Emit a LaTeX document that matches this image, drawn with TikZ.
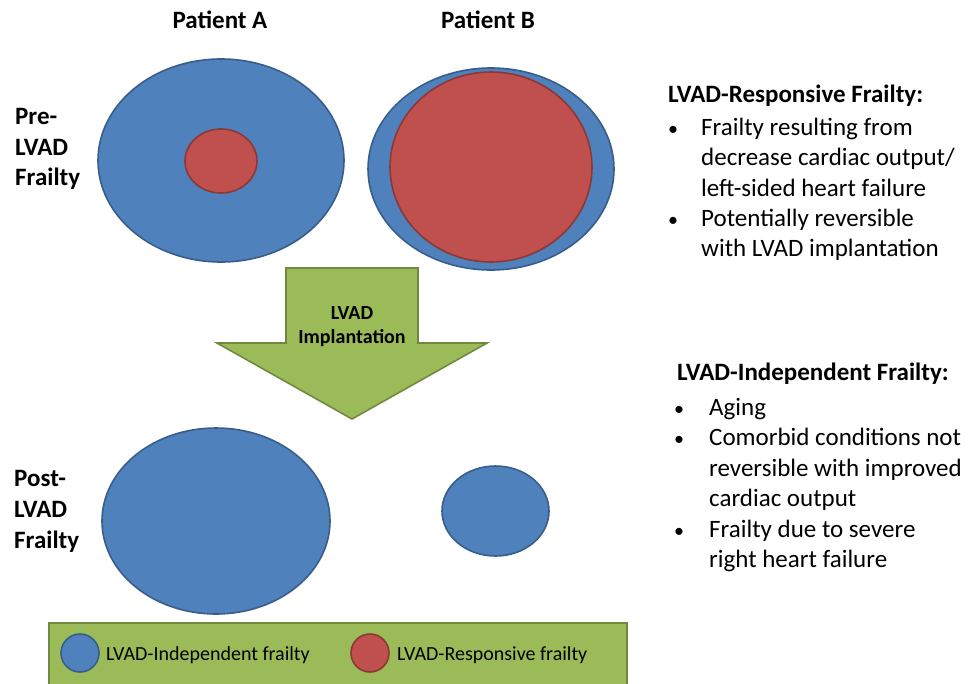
\documentclass[tikz,border=0pt]{standalone}
\usepackage{fontspec}
\setmainfont{Carlito}
\usetikzlibrary{shapes.geometric}
\definecolor{indepfill}{HTML}{4F81BD}
\definecolor{indepline}{HTML}{385D8A}
\definecolor{respfill}{HTML}{C0504D}
\definecolor{respline}{HTML}{8C3836}
\definecolor{implfill}{HTML}{9BBB59}
\definecolor{implline}{HTML}{71893F}
\tikzset{
    indep/.style={ellipse, fill=indepfill, draw=indepline, line width=1.6pt, inner sep=0pt},
    resp/.style={ellipse, fill=respfill, draw=respline, line width=1.6pt, inner sep=0pt},
    head/.style={font=\fontsize{25}{30}\selectfont\bfseries, inner sep=0pt},
    body/.style={font=\fontsize{25}{30}\selectfont, anchor=base west, inner sep=0pt},
    dot/.style={font=\fontsize{20}{24}\selectfont, anchor=base, inner sep=0pt},
    key/.style={font=\fontsize{20}{24}\selectfont, anchor=base west, inner sep=0pt}
}
\begin{document}
\begin{tikzpicture}[x=1pt, y=-1pt]
            \useasboundingbox(0, 0) rectangle (976, 683);
            \clip(0, 0) rectangle (976, 683);

            \node[head, anchor=base] at(220, 28)(patA){Patient A};
            \node[head, anchor=base] at(488, 28)(patB){Patient B};

            %%pre
            \node[head, anchor=base west] at(15, 124)(pre1){Pre-};
            \node[head, anchor=base west] at(15, 155)(pre2){LVAD};
            \node[head, anchor=base west] at(15, 185)(pre3){Frailty};
            \node[indep, minimum width=246, minimum height=203] at(221, 160.5)(preA){};
            \node[resp, minimum width=72, minimum height=64] at(221, 161)(preAr){};
            \node[indep, minimum width=246, minimum height=202] at(491, 169)(preB){};
            \node[resp, minimum width=202, minimum height=190] at(491, 167)(preBr){};

            %%arrow
            \draw[fill=implfill, draw=implline, line width=1.6pt]
                (286, 268) -- (418, 268) -- (418, 343) -- (487, 343) -- (352, 419)
                -- (217, 343) -- (286, 343) -- cycle;
            \node[head, anchor=base, font=\fontsize{20}{24}\selectfont\bfseries] at(352, 319)(impl1){LVAD};
            \node[head, anchor=base, font=\fontsize{20}{24}\selectfont\bfseries] at(352, 343)(impl2){Implantation};

            %%post
            \node[head, anchor=base west] at(14, 486)(post1){Post-};
            \node[head, anchor=base west] at(14, 517)(post2){LVAD};
            \node[head, anchor=base west] at(14, 548)(post3){Frailty};
            \node[indep, minimum width=228, minimum height=186] at(216, 521)(postA){};
            \node[indep, minimum width=107, minimum height=90] at(495.5, 511)(postB){};

            %%legend
            \draw[fill=implfill, draw=implline, line width=1.6pt] (49, 623) rectangle (627, 700);
            \node[indep, minimum width=38, minimum height=38] at(80, 653)(keyA){};
            \node[key] at(106, 660)(keyAt){LVAD-Independent frailty};
            \node[resp, minimum width=38, minimum height=38] at(370, 653)(keyB){};
            \node[key] at(397, 660)(keyBt){LVAD-Responsive frailty};

            %%responsive
            \node[head, anchor=base west] at(668, 102)(resp0){LVAD-Responsive Frailty:};
            \node[dot] at(673, 135)(rdot1){\textbullet};
            \node[body] at(701, 135)(resp1){Frailty resulting from};
            \node[body] at(701, 165)(resp2){decrease cardiac output/};
            \node[body] at(701, 196)(resp3){left-sided heart failure};
            \node[dot] at(673, 226)(rdot2){\textbullet};
            \node[body] at(701, 226)(resp4){Potentially reversible};
            \node[body] at(701, 256)(resp5){with LVAD implantation};

            %%independent
            \node[head, anchor=base west] at(677, 380)(ind0){LVAD-Independent Frailty:};
            \node[dot] at(679, 415)(idot1){\textbullet};
            \node[body] at(709, 415)(ind1){Aging};
            \node[dot] at(679, 445.5)(idot2){\textbullet};
            \node[body] at(709, 445.5)(ind2){Comorbid conditions not};
            \node[body] at(709, 476)(ind3){reversible with improved};
            \node[body] at(709, 506.5)(ind4){cardiac output};
            \node[dot] at(679, 537)(idot3){\textbullet};
            \node[body] at(709, 537)(ind5){Frailty due to severe};
            \node[body] at(709, 567.5)(ind6){right heart failure};
        \end{tikzpicture}
\end{document}
